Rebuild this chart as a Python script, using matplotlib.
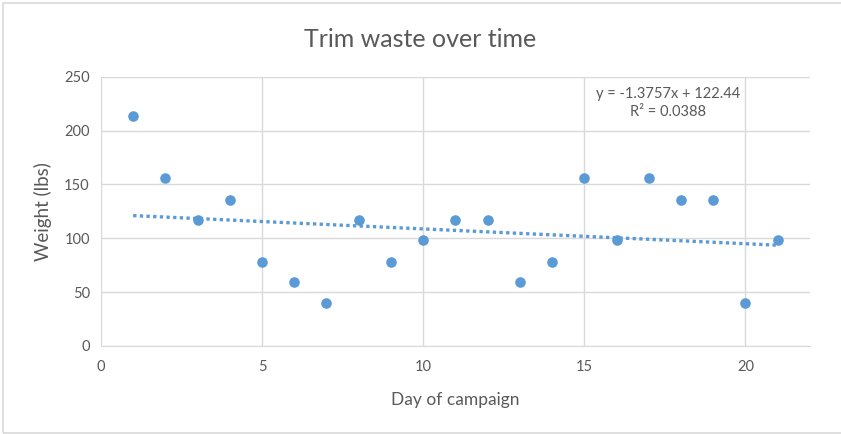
import matplotlib
matplotlib.use("Agg")
import matplotlib.pyplot as plt
import numpy as np

# daily trim waste, lbs
days = list(range(1, 22))
weights = [214, 156, 117, 136, 78, 59, 40, 117, 78, 98, 117,
           117, 59, 78, 156, 98, 156, 136, 136, 40, 98]

# linear trendline coefficients
slope = -1.3757
intercept = 122.44
r_squared = 0.0388

x_ticks = [0, 5, 10, 15, 20]
y_ticks = [0, 50, 100, 150, 200, 250]

blue = '#5B9BD5'
grey_text = '#595959'
grid_col = '#D9D9D9'

plt.rcParams['font.family'] = ['Lato', 'DejaVu Sans']

fig = plt.figure(figsize=(8.41, 4.34), dpi=100)
ax = fig.add_axes([0.120, 0.203, 0.843, 0.620])

# thin outline round the chart area
fig.patches.append(plt.Rectangle((0.004, 0.003), 1.2, 0.99, transform=fig.transFigure,
                                 fill=False, edgecolor='#D9D9D9', linewidth=1.2))

ax.scatter(days, weights, s=58, color=blue, zorder=3, linewidths=0)

trend_x = np.array([days[0], days[-1]])
trend_y = slope * trend_x + intercept
ax.plot(trend_x, trend_y, color=blue, linestyle=(0, (1, 1)), linewidth=2.4, zorder=2)

ax.set_xlim(0, 22)
ax.set_ylim(0, 250)
ax.set_xticks(x_ticks)
ax.set_yticks(y_ticks)
ax.grid(True, color=grid_col, linewidth=1)
ax.set_axisbelow(True)
for side in ['top', 'right', 'left']:
    ax.spines[side].set_visible(False)
ax.spines['bottom'].set_color(grid_col)
ax.tick_params(axis='x', length=0, colors=grey_text, labelsize=10.5, pad=10)
ax.tick_params(axis='y', length=0, colors=grey_text, labelsize=10.5, pad=8)

ax.set_xlabel('Day of campaign', color=grey_text, fontsize=12.5, labelpad=13)
ax.set_ylabel('Weight (lbs)', color=grey_text, fontsize=13.5, labelpad=9)
fig.text(0.5, 0.91, 'Trim waste over time', ha='center', va='center',
         color=grey_text, fontsize=18)

ax.text(17.6, 226, 'y = %.4fx + %.2f\nR² = %.4f' % (slope, intercept, r_squared),
        ha='center', va='center', color=grey_text, fontsize=10.5, linespacing=1.35)

fig.savefig('out.png', dpi=100)
